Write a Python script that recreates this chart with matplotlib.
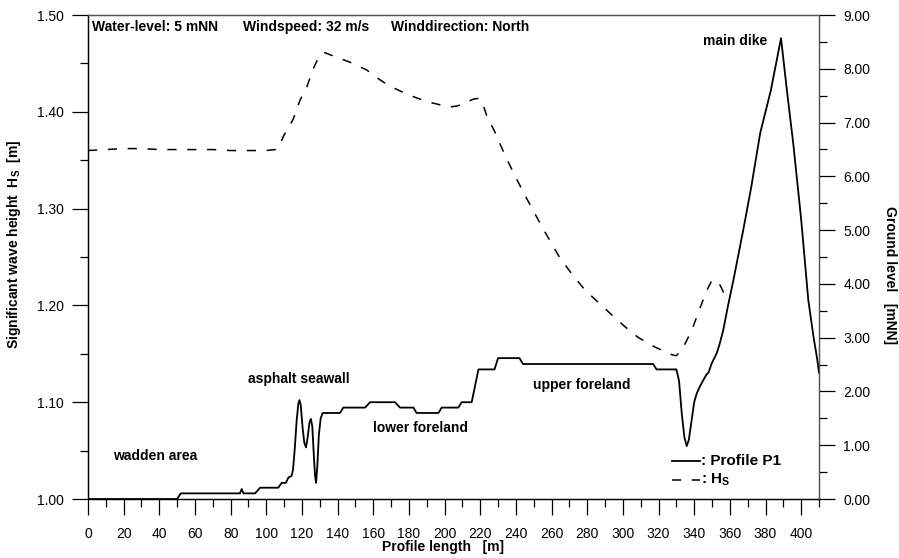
import matplotlib
matplotlib.use("Agg")
import matplotlib.pyplot as plt
from matplotlib.ticker import MultipleLocator, FormatStrFormatter

plt.rcParams['font.family'] = ['Liberation Sans', 'DejaVu Sans']
plt.rcParams['mathtext.fontset'] = 'custom'
plt.rcParams['mathtext.rm'] = 'Liberation Sans'
plt.rcParams['mathtext.bf'] = 'Liberation Sans:bold'

# ground profile P1 (profile length [m], ground level [mNN])
profile_x = [0, 50, 52, 85.2, 86.2, 87.2, 93.7, 96.5, 106.7, 108.6, 111, 112.4,
             114.2, 115, 116, 117, 118, 118.6, 119.3, 120.3, 121.3, 122.3, 123.2,
             124.2, 125, 125.8, 126.6, 127.3, 127.9, 128.6, 129.5, 130.5, 131.6,
             141.3, 143.2, 155.4, 158.2, 172.2, 175, 182.5, 184.3, 196.5, 198.4,
             207.7, 209.6, 215.2, 219, 228, 230, 242, 244, 317, 318.9, 330,
             331.5, 333, 334.5, 335.8, 337, 338.5, 340, 341.4, 343, 345.1, 347,
             348, 349.8, 351, 352.6, 354, 356.3, 359, 362, 367.5, 372, 377, 383,
             388.7, 392, 395.6, 400, 404, 407, 409, 410]
profile_z = [0, 0, 0.105, 0.105, 0.186, 0.105, 0.105, 0.21, 0.21, 0.30, 0.30, 0.40,
             0.43, 0.55, 0.95, 1.45, 1.78, 1.84, 1.75, 1.35, 1.05, 0.96, 1.15,
             1.42, 1.49, 1.35, 0.85, 0.45, 0.30, 0.60, 1.20, 1.50, 1.60,
             1.60, 1.70, 1.70, 1.80, 1.80, 1.70, 1.70, 1.60, 1.60, 1.70,
             1.70, 1.80, 1.80, 2.41, 2.41, 2.62, 2.62, 2.51, 2.51, 2.41, 2.41,
             2.20, 1.60, 1.15, 0.985, 1.10, 1.45, 1.80, 1.96, 2.08, 2.21, 2.32,
             2.35, 2.52, 2.60, 2.71, 2.85, 3.14, 3.60, 4.07, 5.00, 5.80, 6.80, 7.60,
             8.57, 7.60, 6.60, 5.20, 3.70, 3.00, 2.60, 2.35]

# significant wave height along the profile [m]
hs_x = [0, 10, 20, 30, 40, 50, 60, 70, 80, 90, 100, 105, 107, 109.4, 115, 118.9,
        122.8, 126, 130, 133, 138.5, 143, 148.6, 152, 156.5, 160, 163.8, 168,
        173.9, 178, 183.4, 188, 193.5, 198, 203, 207, 211.4, 216, 219.3, 221.5,
        223.8, 228, 232, 236, 240, 245, 250, 255, 260, 264.7, 272, 278.7, 286,
        293.9, 301.2, 308.5, 318, 327.5, 330, 333.7, 338.8, 343.2, 347.2, 350,
        352, 354.5, 358.4]
hs = [1.360, 1.361, 1.362, 1.362, 1.361, 1.361, 1.361, 1.361, 1.360, 1.360,
      1.360, 1.361, 1.363, 1.374, 1.392, 1.412, 1.426, 1.443, 1.459, 1.461,
      1.457, 1.454, 1.450, 1.447, 1.443, 1.438, 1.433, 1.428, 1.4225, 1.419,
      1.415, 1.412, 1.409, 1.407, 1.405, 1.406, 1.409, 1.413, 1.414, 1.408,
      1.395, 1.380, 1.363, 1.347, 1.332, 1.314, 1.297, 1.280, 1.264, 1.249,
      1.231, 1.216, 1.2035, 1.190, 1.178, 1.167, 1.157, 1.149, 1.148, 1.156,
      1.175, 1.197, 1.216, 1.226, 1.226, 1.221, 1.206]

fig = plt.figure(figsize=(8.99, 5.58), dpi=100)
ax = fig.add_axes([0.0979, 0.1057, 0.8131, 0.8674])
ax2 = ax.twinx()

ax.plot(hs_x, hs, color='black', lw=1.1, linestyle=(0, (6, 7)))
ax2.plot(profile_x, profile_z, color='black', lw=1.3)

ax.set_xlim(0, 410)
ax.set_ylim(1.0, 1.5)
ax2.set_ylim(0, 9)

ax.xaxis.set_major_locator(MultipleLocator(20))
ax.xaxis.set_minor_locator(MultipleLocator(10))
ax.yaxis.set_major_locator(MultipleLocator(0.1))
ax.yaxis.set_minor_locator(MultipleLocator(0.05))
ax.yaxis.set_major_formatter(FormatStrFormatter('%.2f'))
ax2.yaxis.set_major_locator(MultipleLocator(1))
ax2.yaxis.set_minor_locator(MultipleLocator(0.5))
ax2.yaxis.set_major_formatter(FormatStrFormatter('%.2f'))

for a in (ax, ax2):
    a.tick_params(which='major', direction='out', length=11.5, width=0.9,
                  labelsize=10, pad=6)
    a.tick_params(which='minor', direction='out', length=6, width=0.9)
ax.tick_params(axis='x', which='major', pad=9)
ax.tick_params(top=False, right=False, which='both')
ax2.tick_params(left=False, which='both')

for a in (ax, ax2):
    a.spines['top'].set_color('#555555')
    a.spines['right'].set_color('#555555')
    a.spines['left'].set_color('black')
    a.spines['bottom'].set_color('black')
    for s in a.spines.values():
        s.set_linewidth(0.9)

bold = dict(fontsize=10, fontweight='bold')
ax.text(0.005, 0.976, 'Water-level: 5 mNN', transform=ax.transAxes,
        ha='left', va='center', **bold)
ax.text(0.2124, 0.976, 'Windspeed: 32 m/s', transform=ax.transAxes,
        ha='left', va='center', **bold)
ax.text(0.4141, 0.976, 'Winddirection: North', transform=ax.transAxes,
        ha='left', va='center', **bold)

ax.text(0.0346, 0.0888, 'wadden area', transform=ax.transAxes,
        ha='left', va='center', **bold)
ax.text(0.2877, 0.248, 'asphalt seawall', transform=ax.transAxes,
        ha='center', va='center', **bold)
ax.text(0.390, 0.146, 'lower foreland', transform=ax.transAxes,
        ha='left', va='center', **bold)
ax.text(0.609, 0.2355, 'upper foreland', transform=ax.transAxes,
        ha='left', va='center', **bold)
ax.text(0.8847, 0.946, 'main dike', transform=ax.transAxes,
        ha='center', va='center', **bold)

# hand-drawn key in the lower right corner
ax.plot([0.7985, 0.8372], [0.0785, 0.0785], transform=ax.transAxes,
        color='black', lw=1.3)
ax.plot([0.7985, 0.8372], [0.0393, 0.0393], transform=ax.transAxes,
        color='black', lw=1.1, linestyle=(0, (6, 7)))
ax.text(0.8386, 0.0785, ': Profile P1', transform=ax.transAxes,
        ha='left', va='center', fontsize=11, fontweight='bold')
ax.text(0.8386, 0.0393, r': H$_\mathbf{S}$', transform=ax.transAxes,
        ha='left', va='center', fontsize=11, fontweight='bold')

fig.text(443 / 899, 1 - 547 / 558, 'Profile length   [m]', ha='center',
         va='center', **bold)
fig.text(14 / 899, 1 - 244 / 558, r'Significant wave height  H$_\mathbf{S}$  [m]',
         rotation=90, ha='center', va='center', **bold)
fig.text(890 / 899, 1 - 275 / 558, 'Ground level   [mNN]', rotation=-90,
         ha='center', va='center', **bold)

fig.savefig('out.png', dpi=100)
